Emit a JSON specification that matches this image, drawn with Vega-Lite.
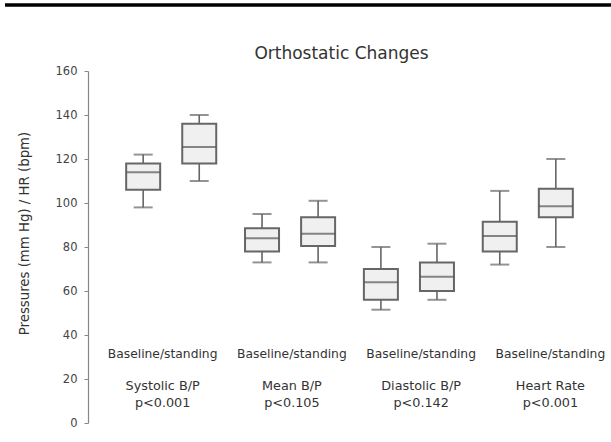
{
  "$schema": "https://vega.github.io/schema/vega-lite/v6.json",
  "autosize": "none",
  "width": 523,
  "height": 352,
  "padding": {"left": 88, "top": 71, "right": 0, "bottom": 19},
  "background": "white",
  "config": {
    "view": {"stroke": null},
    "font": "DejaVu Sans"
  },
  "title": {
    "text": "Orthostatic Changes",
    "fontSize": 17,
    "fontWeight": "normal",
    "color": "#333333",
    "font": "DejaVu Sans",
    "anchor": "middle",
    "offset": 0,
    "dy": 60,
    "dx": -8
  },
  "datasets": {
    "boxes": [
      {"measure": "Systolic B/P", "condition": "Baseline", "lower": 98, "q1": 106, "median": 114, "q3": 118, "upper": 122},
      {"measure": "Systolic B/P", "condition": "Standing", "lower": 110, "q1": 118, "median": 125.5, "q3": 136, "upper": 140},
      {"measure": "Mean B/P", "condition": "Baseline", "lower": 73, "q1": 78, "median": 84, "q3": 88.5, "upper": 95},
      {"measure": "Mean B/P", "condition": "Standing", "lower": 73, "q1": 80.5, "median": 86, "q3": 93.5, "upper": 101},
      {"measure": "Diastolic B/P", "condition": "Baseline", "lower": 51.5, "q1": 56, "median": 64, "q3": 70, "upper": 80},
      {"measure": "Diastolic B/P", "condition": "Standing", "lower": 56, "q1": 60, "median": 66.5, "q3": 73, "upper": 81.5},
      {"measure": "Heart Rate", "condition": "Baseline", "lower": 72, "q1": 78, "median": 85, "q3": 91.5, "upper": 105.5},
      {"measure": "Heart Rate", "condition": "Standing", "lower": 80, "q1": 93.5, "median": 98.5, "q3": 106.5, "upper": 120}
    ],
    "labels": [
      {"measure": "Systolic B/P", "sub": "Baseline/standing", "pval": "p<0.001"},
      {"measure": "Mean B/P", "sub": "Baseline/standing", "pval": "p<0.105"},
      {"measure": "Diastolic B/P", "sub": "Baseline/standing", "pval": "p<0.142"},
      {"measure": "Heart Rate", "sub": "Baseline/standing", "pval": "p<0.001"}
    ]
  },
  "layer": [
    {
      "data": {"name": "boxes"},
      "encoding": {
        "x": {"field": "measure", "type": "nominal", "sort": null,
              "scale": {"paddingInner": 0, "paddingOuter": 0.2},
              "axis": null},
        "xOffset": {"field": "condition", "type": "nominal",
                    "scale": {"paddingInner": 0, "paddingOuter": 0.06}}
      },
      "layer": [
        {
          "mark": {"type": "rule", "color": "#666666", "strokeWidth": 1.6},
          "encoding": {
            "y": {"field": "lower", "type": "quantitative",
                  "scale": {"domain": [0, 160], "nice": false, "zero": true},
                  "axis": {
                    "title": "Pressures (mm Hg) / HR (bpm)",
                    "values": [0, 20, 40, 60, 80, 100, 120, 140, 160],
                    "grid": false,
                    "domainColor": "#888888",
                    "domainWidth": 1.2,
                    "tickColor": "#888888",
                    "tickSize": 4,
                    "labelColor": "#444444",
                    "labelFontSize": 11.5,
                    "labelFont": "DejaVu Sans",
                    "labelPadding": 7,
                    "titleFont": "DejaVu Sans",
                    "titleFontSize": 13.3,
                    "titleFontWeight": "normal",
                    "titleColor": "#333333",
                    "titleX": -57,
                    "titleY": 162
                  }},
            "y2": {"field": "upper"}
          }
        },
        {
          "mark": {"type": "tick", "color": "#666666", "thickness": 2, "size": 19},
          "encoding": {"y": {"field": "lower", "type": "quantitative"}}
        },
        {
          "mark": {"type": "tick", "color": "#666666", "thickness": 2, "size": 19},
          "encoding": {"y": {"field": "upper", "type": "quantitative"}}
        },
        {
          "mark": {"type": "bar", "fill": "#f0f0f0", "stroke": "#666666", "strokeWidth": 2, "width": 34},
          "encoding": {
            "y": {"field": "q1", "type": "quantitative"},
            "y2": {"field": "q3"}
          }
        },
        {
          "mark": {"type": "tick", "color": "#555555", "thickness": 2, "size": 34},
          "encoding": {"y": {"field": "median", "type": "quantitative"}}
        }
      ]
    },
    {
      "data": {"name": "labels"},
      "encoding": {
        "x": {"field": "measure", "type": "nominal", "sort": null,
              "scale": {"paddingInner": 0, "paddingOuter": 0, "range": [10, 527]}, "axis": null}
      },
      "layer": [
        {
          "mark": {"type": "text", "fontSize": 12.3, "color": "#333333", "baseline": "middle"},
          "encoding": {"y": {"datum": 31.4, "type": "quantitative"}, "text": {"field": "sub"}}
        },
        {
          "mark": {"type": "text", "fontSize": 12.8, "color": "#333333", "baseline": "middle"},
          "encoding": {"y": {"datum": 16.8, "type": "quantitative"}, "text": {"field": "measure"}}
        },
        {
          "mark": {"type": "text", "fontSize": 12.8, "color": "#333333", "baseline": "middle"},
          "encoding": {"y": {"datum": 9.1, "type": "quantitative"}, "text": {"field": "pval"}}
        }
      ]
    },
    {
      "data": {"values": [{}]},
      "mark": {"type": "rule", "color": "black", "strokeWidth": 3.5, "clip": false},
      "encoding": {
        "y": {"datum": 190, "type": "quantitative"},
        "x": {"value": -83},
        "x2": {"value": 523}
      }
    }
  ],
  "resolve": {"scale": {"x": "independent"}}
}
